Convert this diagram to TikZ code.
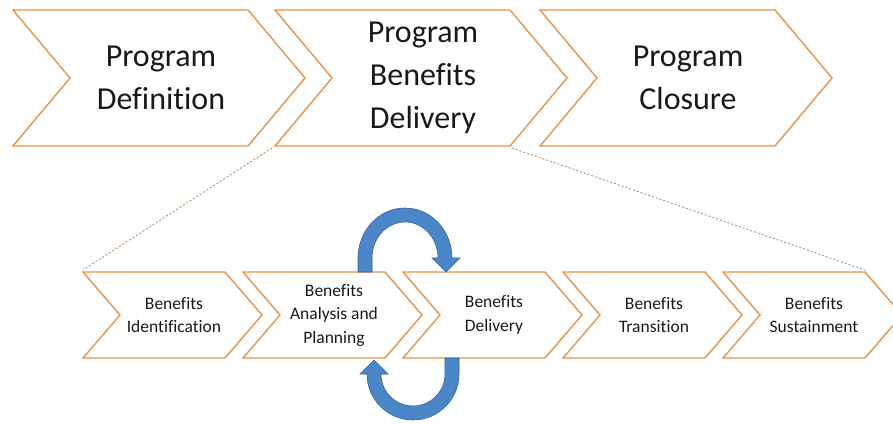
\documentclass[tikz,border=0pt]{standalone}
\usepackage{fontspec}
\setmainfont[Ligatures=NoCommon]{Carlito}
\usepackage{tikz}
\definecolor{chevorange}{RGB}{228,148,76}
\definecolor{arrowblue}{RGB}{74,134,200}
\definecolor{arrowedge}{RGB}{52,100,158}
\tikzset{chevron/.style={draw=chevorange, line width=1.4pt, fill=white, line join=miter},
 phase/.style={font=\fontsize{32}{43}\selectfont, align=center, text=black!90},
 subphase/.style={font=\fontsize{17.5}{23.5}\selectfont, align=center, text=black!90},
 zoomline/.style={draw=chevorange!60!gray, line width=0.9pt, dash pattern=on 2pt off 2pt},
 looparrow/.style={fill=arrowblue, draw=arrowedge, line width=0.6pt},
 }

\begin{document}
\begin{tikzpicture}[x=1pt, y=1pt]
        \useasboundingbox (0,0) rectangle (893,-423);
        \clip (0,0) rectangle (893,-423);

        \foreach \x/\txt [count=\i] in {13/{Program\\Definition}, 275/{Program\\Benefits\\Delivery}, 540/{Program\\Closure}} {
            \draw[chevron] (\x,-10) -- (\x+235,-10) -- (\x+292,-78) -- (\x+235,-146) -- (\x,-146) -- (\x+57,-78) -- cycle;
            \node[phase] (phase\i) at (\x+148,-78) {\txt};
            \coordinate (phase\i-bl) at (\x-3,-148);
            \coordinate (phase\i-br) at (\x+237,-148);
        }

        \foreach \txt [count=\i] in {{Benefits\\Identification}, {Benefits\\Analysis and\\Planning}, {Benefits\\Delivery}, {Benefits\\Transition}, {Benefits\\Sustainment}} {
            \pgfmathsetmacro\x{83+160*(\i-1)}
            \draw[chevron] (\x,-272) -- (\x+142,-272) -- (\x+179,-315) -- (\x+142,-358) -- (\x,-358) -- (\x+37,-315) -- cycle;
            \node[subphase] (sub\i) at (\x+91,-315) {\txt};
            \coordinate (sub\i-tl) at (\x,-270);
            \coordinate (sub\i-tr) at (\x+142,-270);
        }

        \draw[zoomline] (phase2-bl) -- (sub1-tl);
        \draw[zoomline] (phase2-br) -- (sub5-tr);

        \draw[looparrow] (358,-272) -- (358,-258) arc[start angle=180, end angle=0, x radius=47, y radius=50]
            -- (460,-258) -- (446,-272) -- (432,-258) -- (438,-258)
            arc[start angle=0, end angle=180, x radius=33, y radius=36] -- (372,-272) -- cycle;
        \draw[looparrow] (445,-358) -- (459,-358) -- (459,-374) arc[start angle=0, end angle=-180, x radius=46, y radius=46]
            -- (360,-374) -- (374,-360) -- (388,-374) -- (381,-374)
            arc[start angle=180, end angle=360, x radius=32, y radius=32] -- (445,-374) -- cycle;
\end{tikzpicture}
\end{document}
